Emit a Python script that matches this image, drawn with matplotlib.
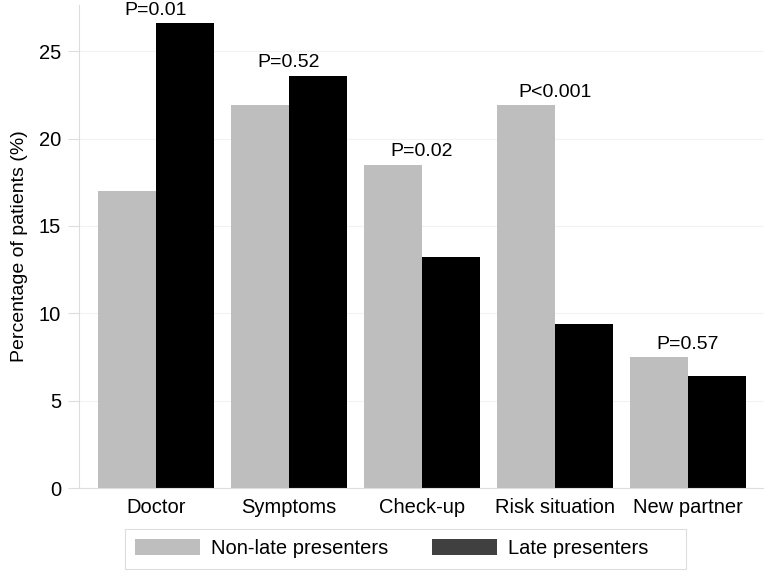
import numpy as np
import matplotlib
matplotlib.use("Agg")
import matplotlib.pyplot as plt
from matplotlib.patches import Patch, Rectangle

plt.rcParams['font.family'] = ['Liberation Sans', 'DejaVu Sans']

categories = ["Doctor", "Symptoms", "Check-up", "Risk situation", "New partner"]
non_late = [17.0, 21.9, 18.5, 21.9, 7.5]
late = [26.6, 23.6, 13.2, 9.4, 6.4]
p_labels = ["P=0.01", "P=0.52", "P=0.02", "P<0.001", "P=0.57"]

W, H = 764, 571
fig = plt.figure(figsize=(W / 100, H / 100), dpi=100)
# axis area in pixels: left spine at x=79, zero line at y=488, top at y=5
ax = fig.add_axes([79 / W, 1 - 488 / H, 1 - 79 / W, 483 / H])

x = np.arange(len(categories))
bw = 0.437
ax.bar(x - bw / 2, non_late, bw, color="#bebebe", linewidth=0)
ax.bar(x + bw / 2, late, bw, color="#000000", linewidth=0)

for i in range(len(categories)):
    top = max(non_late[i], late[i])
    ax.text(x[i], top + 0.48, p_labels[i], ha="center", va="baseline", fontsize=14)

ax.set_xlim(-0.58, 4.575)
ax.set_ylim(0, 483 / 17.47)
ax.set_yticks([0, 5, 10, 15, 20, 25])
ax.set_xticks(x)
ax.set_xticklabels(categories, fontsize=14.5)
ax.tick_params(axis="x", length=0, pad=7)
ax.tick_params(axis="y", length=8, width=0.8, color="#dddddd", labelsize=14.5, pad=5)
ax.set_ylabel("Percentage of patients (%)", fontsize=14, labelpad=8)
ax.yaxis.grid(True, color="#f2f2f2", linewidth=0.8)
ax.set_axisbelow(True)
for s in ["top", "right"]:
    ax.spines[s].set_visible(False)
ax.spines["left"].set_color("#dddddd")
ax.spines["bottom"].set_color("#dddddd")

# legend box drawn separately (wider than the entries, like the original)
fig.patches.append(Rectangle((125 / W, 1 - 569 / H), 561 / W, 40 / H,
                             transform=fig.transFigure, facecolor="white",
                             edgecolor="#dddddd", linewidth=0.8))
handles = [Patch(facecolor="#bebebe", edgecolor="none", label="Non-late presenters"),
           Patch(facecolor="#404040", edgecolor="none", label="Late presenters")]
leg = fig.legend(handles=handles, ncol=2, loc="upper left",
                 bbox_to_anchor=(125 / W, 1 - 529 / H), borderaxespad=0,
                 fontsize=14.5, frameon=False,
                 handlelength=3.2, handleheight=0.85, columnspacing=2.2,
                 borderpad=0.5, handletextpad=0.55)

fig.savefig("out.png", dpi=100)
